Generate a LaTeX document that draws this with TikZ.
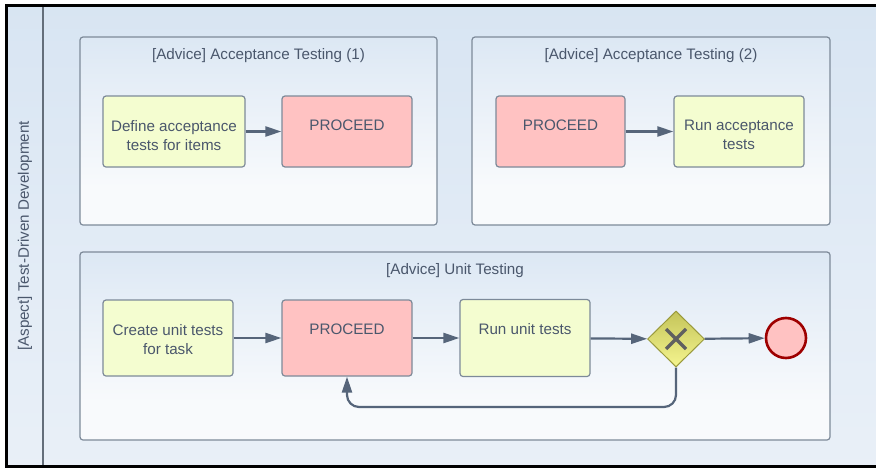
\documentclass[tikz,border=0pt]{standalone}
\usepackage{fontspec}
\setmainfont{Liberation Sans}
\usetikzlibrary{arrows.meta,shapes.geometric,calc}

\definecolor{ink}{HTML}{4A576C}
\definecolor{linec}{HTML}{56657A}
\definecolor{framec}{HTML}{7D8A99}
\definecolor{lanetop}{HTML}{CFDFEF}
\definecolor{lanemid}{HTML}{E3ECF6}
\definecolor{lanebot}{HTML}{F0F4F9}
\definecolor{advtop}{HTML}{C9DCEE}
\definecolor{advmid}{HTML}{E6EEF7}
\definecolor{advbot}{HTML}{F8FAFC}
\definecolor{taskfill}{HTML}{F4FDD0}
\definecolor{proceedfill}{HTML}{FFC2C2}
\definecolor{gwtop}{HTML}{C4C45A}
\definecolor{gwbot}{HTML}{F5F58F}
\definecolor{gwline}{HTML}{9A9A3C}
\definecolor{endline}{HTML}{9E0000}

% vertical gradients: light at the bottom, blue at the top
\pgfdeclareverticalshading{advshade}{100bp}{color(0bp)=(advbot); color(35bp)=(advbot); color(62bp)=(advmid); color(100bp)=(advtop)}
\pgfdeclareverticalshading{laneshade}{100bp}{color(0bp)=(lanebot); color(45bp)=(lanemid); color(100bp)=(lanetop)}

\begin{document}
\begin{tikzpicture}[x=1pt,y=-1pt,
  every node/.style={font=\fontsize{15.2}{19}\selectfont, text=ink},
  advice/.style={draw=framec, line width=1.2pt, rounded corners=3pt, shading=advshade, inner sep=0pt},
  taskbox/.style={draw=framec, line width=1.2pt, rounded corners=3pt, inner sep=0pt, minimum height=71pt},
  txt/.style={inner sep=0pt, align=center, anchor=north},
  title/.style={inner sep=0pt, anchor=north},
  flow/.style={draw=linec, line width=2.2pt, -{Triangle[length=16pt,width=10pt]}},
]
\useasboundingbox (0,0) rectangle (876,469);
\fill[white] (0,0) rectangle (876,469);

% pool background and frame
\shade[shading=laneshade] (5,5) rectangle (876,467);
\draw[black, line width=3pt] (876,5.5) -- (6.5,5.5) -- (6.5,466) -- (876,466);
\draw[framec!80!black, line width=1.2pt] (43,7) -- (43,464.5);
\node[rotate=90, inner sep=0pt] (lane) at (25,236) {[Aspect] Test-Driven Development};

% advice containers
\node[advice, minimum width=357pt, minimum height=188pt] (adv1) at (258.5,131) {};
\node[advice, minimum width=358pt, minimum height=188pt] (adv2) at (651,131) {};
\node[advice, minimum width=750pt, minimum height=188pt] (adv3) at (455,346) {};
\node[title] (adv1t) at (258.5,48.5) {[Advice] Acceptance Testing (1)};
\node[title] (adv2t) at (651,48.5) {[Advice] Acceptance Testing (2)};
\node[title] (adv3t) at (455,263.5) {[Advice] Unit Testing};

% acceptance testing (1)
\node[taskbox, fill=taskfill, minimum width=142pt] (def) at (174,131.5) {};
\node[taskbox, fill=proceedfill, minimum width=130pt] (pro1) at (347,131.5) {};
\node[txt] (deft) at ($(def.north)+(0,24.5)$) {Define acceptance\\tests for items};
\node[txt] (pro1t) at ($(pro1.north)+(0,24.5)$) {PROCEED};
\draw[flow] (def) -- (pro1);

% acceptance testing (2)
\node[taskbox, fill=proceedfill, minimum width=129pt] (pro2) at (560.5,131.5) {};
\node[taskbox, fill=taskfill, minimum width=130pt] (runacc) at (739,131.5) {};
\node[txt] (pro2t) at ($(pro2.north)+(0,24.5)$) {PROCEED};
\node[txt] (runacct) at ($(runacc.north)+(0,24.5)$) {Run acceptance\\tests};
\draw[flow] (pro2) -- (runacc);

% unit testing
\node[taskbox, fill=taskfill, minimum width=130pt, minimum height=76pt] (cre) at (168,338) {};
\node[taskbox, fill=proceedfill, minimum width=130pt, minimum height=76pt] (pro3) at (347,338) {};
\node[taskbox, fill=taskfill, minimum width=130pt, minimum height=77pt] (rununit) at (525,338) {};
\node[txt] (cret) at ($(cre.north)+(0,24.5)$) {Create unit tests\\for task};
\node[txt] (pro3t) at ($(pro3.north)+(0,24.5)$) {PROCEED};
\node[txt] (rununitt) at ($(rununit.north)+(0,24.5)$) {Run unit tests};

\node[diamond, draw=gwline, line width=1pt, top color=gwtop, bottom color=gwbot,
      minimum width=57pt, minimum height=56pt, inner sep=0pt] (gw) at (676,339) {};
\draw[gray!75!black, line width=3.5pt] ($(gw.center)+(-10,-10)$) -- ($(gw.center)+(10,10)$)
      ($(gw.center)+(-10,10)$) -- ($(gw.center)+(10,-10)$);
\node[circle, draw=endline, line width=2.6pt, fill=proceedfill, minimum size=40pt, inner sep=0pt] (endev) at (786,338) {};

\coordinate (loopy) at (0,407);
\draw[flow] (cre) -- (pro3);
\draw[flow] (pro3) -- (rununit);
\draw[flow] (rununit) -- (gw);
\draw[flow] (gw) -- (endev);
\draw[flow, rounded corners=12pt] (gw.south) |- (pro3.south |- loopy) -- (pro3.south);
\end{tikzpicture}
\end{document}
